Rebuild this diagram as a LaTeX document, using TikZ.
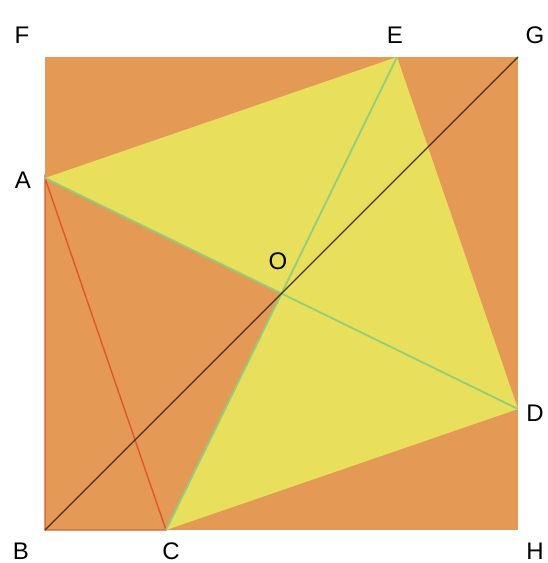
\documentclass[tikz,border=0pt]{standalone}
\usepackage{fontspec}
\setmainfont{Liberation Sans}
\definecolor{sqorange}{HTML}{E49A55}
\definecolor{sqyellow}{HTML}{E8E05A}
\definecolor{lgreen}{HTML}{8CCF80}
\definecolor{lred}{HTML}{E0552A}
\definecolor{ldark}{HTML}{4A3010}
\begin{document}
\begin{tikzpicture}[x=1pt,y=-1pt,
  lab/.style={font=\fontsize{24}{24}\selectfont, text=black, inner sep=0pt},
  greenline/.style={draw=lgreen, line width=1.8pt},
  redline/.style={draw=lred, line width=1.4pt},
  diagline/.style={draw=ldark, line width=1.4pt}]
\useasboundingbox (0,0) rectangle (547,563);
\fill[white] (0,0) rectangle (547,563);
\coordinate (F) at (45,57);
\coordinate (G) at (518,57);
\coordinate (H) at (518,530);
\coordinate (B) at (45,530);
\coordinate (E) at (397,57);
\coordinate (D) at (518,409);
\coordinate (C) at (166,530);
\coordinate (A) at (45,178);
\coordinate (O) at (281.5,293.5);
\fill[sqorange] (F) -- (G) -- (H) -- (B) -- cycle;
\fill[sqyellow] (A) -- (E) -- (D) -- (C) -- (O) -- cycle;
\draw[redline] (A) -- (B) -- (C) -- cycle;
\draw[greenline] (O) -- (A);
\draw[greenline] (O) -- (E);
\draw[greenline] (O) -- (D);
\draw[greenline] (O) -- (C);
\draw[diagline] (B) -- (G);
\node[lab] (lF) at (22,35) {F};
\node[lab] (lE) at (395,35) {E};
\node[lab] (lG) at (535,35) {G};
\node[lab] (lA) at (23,180) {A};
\node[lab] (lO) at (278,261) {O};
\node[lab] (lD) at (535,413) {D};
\node[lab] (lB) at (21,551) {B};
\node[lab] (lC) at (171,551) {C};
\node[lab] (lH) at (535,551) {H};
\end{tikzpicture}
\end{document}
